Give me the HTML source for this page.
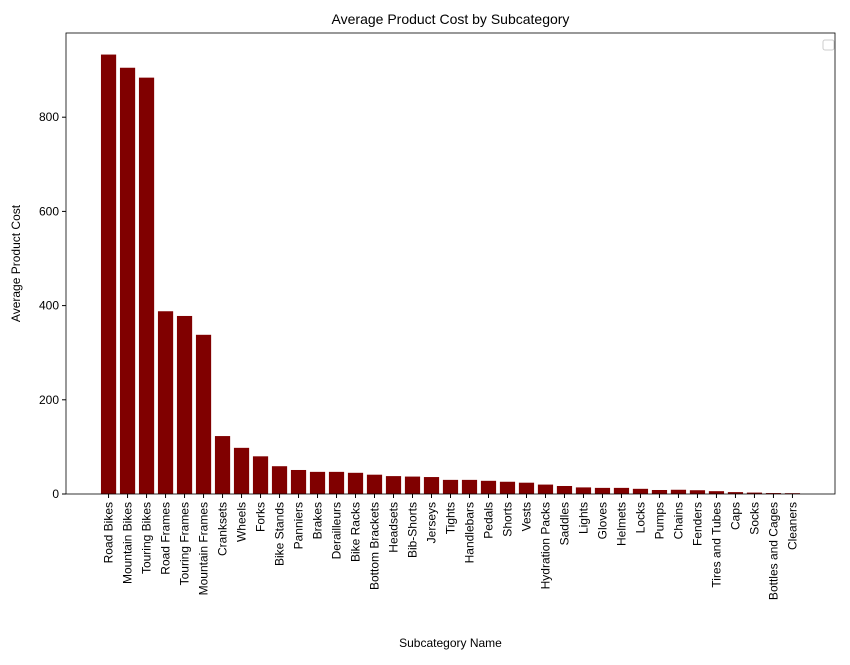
<!DOCTYPE html>
<html><head><meta charset="utf-8"><style>body{margin:0;background:#fff}svg{font-family:"Liberation Sans","DejaVu Sans",sans-serif}</style></head>
<body>
<svg id="c" width="850" height="660"></svg>
<script>
const categories=["Road Bikes","Mountain Bikes","Touring Bikes","Road Frames","Touring Frames","Mountain Frames","Cranksets","Wheels","Forks","Bike Stands","Panniers","Brakes","Derailleurs","Bike Racks","Bottom Brackets","Headsets","Bib-Shorts","Jerseys","Tights","Handlebars","Pedals","Shorts","Vests","Hydration Packs","Saddles","Lights","Gloves","Helmets","Locks","Pumps","Chains","Fenders","Tires and Tubes","Caps","Socks","Bottles and Cages","Cleaners"];
const values=[933,905,884,388,378,338,123,98,80,59,51,47,47,45,41,38,37,36,30,30,28,26,24,20,17,14,13,13,11,8.5,9,8,6,4,3,2,1.7];
const yTicks=[0,200,400,600,800];
const svg=document.getElementById('c'),NS='http://www.w3.org/2000/svg';
function mk(t,a,p){const e=document.createElementNS(NS,t);for(const k in a)e.setAttribute(k,a[k]);(p||svg).appendChild(e);return e;}
const L=66,R=835,T=33,B=494;
const n=categories.length,lo=-0.4-0.05*(n-0.2),hi=n-0.6+0.05*(n-0.2);
const x=i=>L+(i-lo)/(hi-lo)*(R-L);
const y=v=>B-v*(94.2/200);
const bw=0.8*(R-L)/(hi-lo);
categories.forEach((c,i)=>{
 const r=mk('rect',{x:x(i)-bw/2,y:y(values[i]),width:bw,height:B-y(values[i]),fill:'#800000'});
 
 
 mk('line',{x1:x(i),x2:x(i),y1:B,y2:B+4,stroke:'#000'});
 const t=mk('text',{x:0,y:0,'font-size':12,'text-anchor':'end',transform:`translate(${x(i)+4},${B+8}) rotate(-90)`});
 t.textContent=c;
 
 
});
yTicks.forEach(v=>{
 mk('line',{x1:L-4,x2:L,y1:y(v),y2:y(v),stroke:'#000'});
 const t=mk('text',{x:L-7,y:y(v)+4,'font-size':12,'text-anchor':'end'});t.textContent=v;
 
 
});
const f=mk('rect',{x:L,y:T,width:R-L,height:B-T,fill:'none',stroke:'#000','stroke-width':0.8});

const lg=mk('rect',{x:823,y:40,width:11,height:10,fill:'#fff',stroke:'#ccc',rx:2});

let t=mk('text',{x:(L+R)/2,y:24,'font-size':14,'text-anchor':'middle'});t.textContent='Average Product Cost by Subcategory';

t=mk('text',{x:(L+R)/2,y:647,'font-size':12,'text-anchor':'middle'});t.textContent='Subcategory Name';

t=mk('text',{x:0,y:0,'font-size':12,'text-anchor':'middle',transform:`translate(20,${(T+B)/2}) rotate(-90)`});t.textContent='Average Product Cost';

</script>
</body></html>
